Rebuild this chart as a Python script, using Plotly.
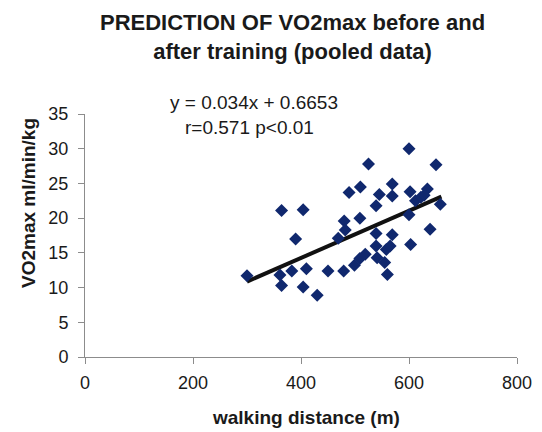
import plotly.graph_objects as go

walking_distance = [300, 364, 404, 390, 361, 364, 383, 410, 404, 430,
                    450, 479, 469, 480, 482, 489, 510, 509, 525, 499,
                    509, 519, 539, 539, 541, 545, 539, 555, 560, 558,
                    565, 569, 569, 569, 600, 650, 602, 634, 612, 622,
                    628, 658, 600, 603, 639]
vo2max = [11.7, 21.1, 21.2, 17.0, 11.8, 10.3, 12.4, 12.7, 10.1, 8.9,
          12.4, 12.4, 17.1, 19.6, 18.3, 23.7, 24.5, 20.0, 27.8, 13.2,
          14.2, 14.8, 17.8, 16.0, 14.3, 23.4, 21.8, 13.6, 11.9, 15.5,
          16.0, 17.6, 24.9, 23.2, 30.0, 27.7, 23.8, 24.2, 22.5, 23.0,
          23.3, 22.0, 20.5, 16.2, 18.4]

slope = 0.034
intercept = 0.6653
fit_x = [300, 660]
fit_y = [slope * v + intercept for v in fit_x]

x_ticks = [0, 200, 400, 600, 800]
y_ticks = [0, 5, 10, 15, 20, 25, 30, 35]

FONT = "Liberation Sans, Arial, sans-serif"
TXT = "#1a1a1a"

# page has an 8px body margin; figure coordinates = page pixels - 8
OFF = 8
W, H = 534, 424
L, T = 85 - OFF, 114 - OFF
PW, PH = 432, 243
R, B = W - L - PW, H - T - PH


def px(x):
    return (x - OFF - L) / PW


def py(y):
    return 1 - (y - OFF - T) / PH


fig = go.Figure()
fig.add_trace(go.Scatter(x=fit_x, y=fit_y, mode="lines",
                         line=dict(color="#111111", width=4),
                         showlegend=False, hoverinfo="skip"))
fig.add_trace(go.Scatter(x=walking_distance, y=vo2max, mode="markers",
                         marker=dict(symbol="diamond", size=10, color="#10286E",
                                     line=dict(width=0)),
                         showlegend=False))

axis_common = dict(showgrid=False, zeroline=False,
                   showline=True, linecolor="#8c8c8c", linewidth=1,
                   ticks="outside", ticklen=6, tickcolor="#8c8c8c",
                   tickfont=dict(size=18, family=FONT, color=TXT))

fig.update_layout(
    width=W, height=H,
    margin=dict(l=L, r=R, t=T, b=B, autoexpand=False),
    paper_bgcolor="white", plot_bgcolor="white",
    font=dict(family=FONT, color=TXT, size=17),
    xaxis=dict(range=[0, 800], tickvals=x_ticks, ticklabelstandoff=3, **axis_common),
    yaxis=dict(range=[0, 35], tickvals=y_ticks, ticklabelstandoff=6, **axis_common),
    annotations=[
        dict(text="<b>PREDICTION OF VO2max before and<br>after training (pooled data)</b>",
             x=px(292), y=py(37), xref="paper", yref="paper", showarrow=False,
             xanchor="center", yanchor="middle",
             font=dict(size=22, family=FONT, color=TXT)),
        dict(text="<b>walking distance (m)</b>",
             x=px(306), y=py(417), xref="paper", yref="paper", showarrow=False,
             xanchor="center", yanchor="middle",
             font=dict(size=19, family=FONT, color=TXT)),
        dict(text="<b>VO2max ml/min/kg</b>",
             x=px(28), y=py(203), xref="paper", yref="paper", showarrow=False,
             xanchor="center", yanchor="middle", textangle=-90,
             font=dict(size=19, family=FONT, color=TXT)),
        dict(text="y = 0.034x + 0.6653",
             x=px(254), y=py(102), xref="paper", yref="paper", showarrow=False,
             xanchor="center", yanchor="middle",
             font=dict(size=19, family=FONT, color=TXT)),
        dict(text="r=0.571 p<0.01",
             x=px(249), y=py(127), xref="paper", yref="paper", showarrow=False,
             xanchor="center", yanchor="middle",
             font=dict(size=19, family=FONT, color=TXT)),
    ],
)

fig.write_html("out.html")
